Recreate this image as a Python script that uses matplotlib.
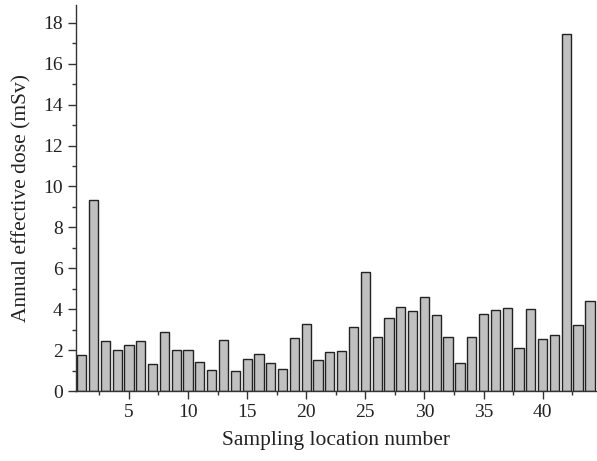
import numpy as np
import matplotlib.pyplot as plt
from matplotlib.ticker import MultipleLocator

# sampling locations 1..44 and annual effective dose (mSv)
locations = np.arange(1, 45)
dose = [1.76, 9.32, 2.44, 1.99, 2.23, 2.44, 1.34, 2.90, 1.99, 2.02,
        1.44, 1.03, 2.49, 0.99, 1.58, 1.79, 1.37, 1.08, 2.57, 3.29,
        1.52, 1.92, 1.97, 3.14, 5.83, 2.65, 3.55, 4.11, 3.93, 4.61,
        3.73, 2.62, 1.35, 2.64, 3.76, 3.96, 4.07, 2.12, 3.99, 2.56,
        2.75, 17.46, 3.24, 4.41]

plt.rcParams['font.family'] = ['Liberation Serif', 'DejaVu Serif']

fig = plt.figure(figsize=(5.97, 4.61), dpi=100)
ax = fig.add_axes([76/597, 70/461, (597-76)/597, (391-5)/461])

ax.bar(locations, dose, width=0.78, color='#c0c0c0', edgecolor='#222222', linewidth=1.0)

ax.set_xlim(0.52, 44.6)
ax.set_ylim(0, 18.87)
ax.xaxis.set_major_locator(MultipleLocator(5))
ax.xaxis.set_minor_locator(MultipleLocator(2.5))
ax.yaxis.set_major_locator(MultipleLocator(2))
ax.yaxis.set_minor_locator(MultipleLocator(1))
ax.set_xticks([5, 10, 15, 20, 25, 30, 35, 40])

for s in ['top', 'right']:
    ax.spines[s].set_visible(False)
for s in ['left', 'bottom']:
    ax.spines[s].set_color('#333333')
    ax.spines[s].set_linewidth(1.0)

ax.tick_params(which='major', direction='out', length=5.5, width=1, colors='#333333',
               labelsize=14, labelcolor='#222222', pad=4)
ax.tick_params(which='minor', direction='out', length=3, width=1, colors='#333333')

ax.set_xlabel("Sampling location number", fontsize=15.5, color='#222222', labelpad=7)
ax.set_ylabel("Annual effective dose (mSv)", fontsize=15.5, color='#222222', labelpad=8)

fig.savefig("out.png", dpi=100)
